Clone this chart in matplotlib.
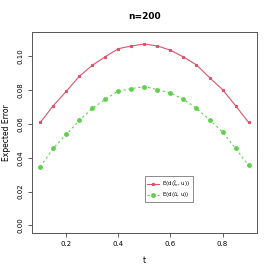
import matplotlib.pyplot as plt

t = [0.1, 0.15, 0.2, 0.25, 0.3, 0.35, 0.4, 0.45, 0.5, 0.55, 0.6, 0.65, 0.7, 0.75, 0.8, 0.85, 0.9]
err_ln = [0.0609, 0.0708, 0.0793, 0.0882, 0.0947, 0.0998, 0.1045, 0.1061, 0.1073,
          0.1061, 0.1036, 0.0996, 0.0949, 0.0874, 0.0803, 0.0708, 0.0609]
err_u = [0.0347, 0.0456, 0.0538, 0.0621, 0.0692, 0.0746, 0.0795, 0.0809, 0.0821,
         0.0803, 0.0783, 0.0746, 0.0692, 0.0625, 0.0552, 0.0456, 0.0355]
xticks = [0.2, 0.4, 0.6, 0.8]
yticks = [0.00, 0.02, 0.04, 0.06, 0.08, 0.10]

red = '#DF536B'
green = '#61D04F'

fig = plt.figure(figsize=(2.73, 2.73), dpi=100)
ax = fig.add_axes([0.117, 0.147, 0.824, 0.736])

ax.plot(t, err_ln, '-', color=red, linewidth=0.8, marker='*', markersize=2,
        label=r'E(d($\hat{l}_n$, u))')
ax.plot(t, err_u, '--', color=green, linewidth=0.8, dashes=(2, 2.5), marker='o',
        markersize=2.5, label=r'E(d($\hat{u}$, u))')

ax.set_xlim(0.068, 0.932)
ax.set_ylim(-0.0044, 0.1144)
ax.set_xticks(xticks)
ax.set_xticklabels(['0.2', '0.4', '0.6', '0.8'])
ax.set_yticks(yticks)
ax.set_yticklabels(['0.00', '0.02', '0.04', '0.06', '0.08', '0.10'],
                   rotation=90, va='center')
ax.tick_params(labelsize=5, length=3, width=0.6, color='#444444', pad=3)
for s in ax.spines.values():
    s.set_linewidth(0.7)
    s.set_color('#555555')

ax.set_xlabel('t', fontsize=5.5)
ax.xaxis.set_label_coords(0.5, -0.115)
ax.set_ylabel('Expected Error', fontsize=5.5)
ax.yaxis.set_label_coords(-0.095, 0.5)
ax.set_title('n=200', fontsize=6.5, fontweight='bold', pad=9)

leg = ax.legend(loc='upper left', bbox_to_anchor=(0.49, 0.295), fontsize=4,
                frameon=True, fancybox=False, edgecolor='#555555',
                handlelength=2.2, borderpad=0.4, labelspacing=0.2,
                handletextpad=0.5)
leg.get_frame().set_linewidth(0.6)

plt.savefig('out.png', dpi=100)
